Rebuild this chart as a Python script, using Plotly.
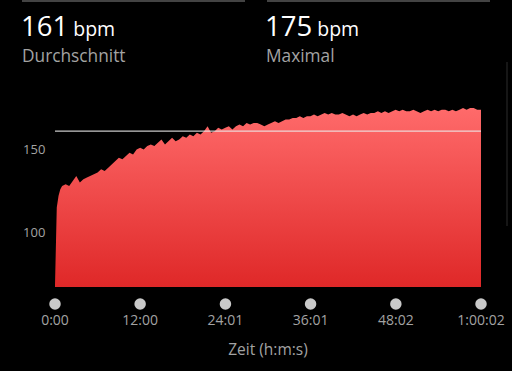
import plotly.graph_objects as go

# ---- data ----
time_min = [0, 0.1, 0.25, 0.5, 0.75, 1.0] + [1.5 + 0.5 * i for i in range(118)] + [60.033]
heart_rate = [68, 100, 115, 122, 126, 128,
              129, 128, 131, 134, 130, 132, 133, 134, 135, 136,
              138, 137, 139, 141, 143, 145, 144, 146, 148, 147,
              150, 151, 150, 152, 153, 152, 154, 156, 153, 155,
              157, 155, 156, 158, 157, 159, 158, 160, 159, 161,
              164, 160, 161, 163, 162, 163, 164, 162, 164, 165,
              164, 166, 165, 166, 166, 165, 164, 165, 166, 167,
              166, 167, 168, 168, 169, 169, 170, 169, 170, 170,
              171, 170, 171, 172, 171, 172, 171, 171, 172, 171,
              170, 171, 170, 171, 172, 171, 172, 172, 173, 172,
              173, 172, 173, 174, 173, 174, 173, 173, 174, 173,
              172, 173, 174, 173, 174, 173, 174, 174, 173, 174,
              173, 174, 175, 174, 175, 175, 174, 174, 174]
average_bpm = 161
max_bpm = 175
tick_vals = [0, 12, 24.017, 36.017, 48.033, 60.033]
tick_text = ["0:00", "12:00", "24:01", "36:01", "48:02", "1:00:02"]
y_ticks = [100, 150]

FONT = "'Open Sans', Roboto, 'Noto Sans', sans-serif"
GREY = "#a3a3a3"

# pixel layout: plot region x 55..481, y 103..310 (main 103..287, dot strip 298..310)
L, R, T, B = 55, 481, 103, 310

def px_x(p):
    return (p - L) / (R - L)

def px_y(p):
    return (B - p) / (B - T)

fig = go.Figure()

fig.add_trace(go.Scatter(
    x=time_min, y=heart_rate, mode="lines", line=dict(width=0, color="#ff6a6a"),
    fill="tozeroy",
    fillgradient=dict(type="vertical", start=67, stop=176,
                      colorscale=[[0, "#df2828"], [1, "#ff6b6b"]]),
    hoverinfo="skip", showlegend=False, xaxis="x", yaxis="y"))

fig.add_trace(go.Scatter(
    x=[0, tick_vals[-1]], y=[average_bpm, average_bpm], mode="lines",
    line=dict(width=1.2, color="rgba(235,235,235,0.85)"),
    hoverinfo="skip", showlegend=False, xaxis="x", yaxis="y"))

fig.add_trace(go.Scatter(
    x=tick_vals, y=[0.5] * len(tick_vals), mode="markers",
    marker=dict(size=11.5, color="#c9c9c9"), cliponaxis=False,
    hoverinfo="skip", showlegend=False, xaxis="x2", yaxis="y2"))

shapes = [
    dict(type="line", xref="paper", yref="paper", x0=px_x(22), x1=px_x(245),
         y0=px_y(1), y1=px_y(1), line=dict(color="#5a5a5a", width=1.5)),
    dict(type="line", xref="paper", yref="paper", x0=px_x(267), x1=px_x(490),
         y0=px_y(1), y1=px_y(1), line=dict(color="#5a5a5a", width=1.5)),
    dict(type="line", xref="paper", yref="paper", x0=px_x(507), x1=px_x(507),
         y0=px_y(62), y1=px_y(226), line=dict(color="#1e1e1e", width=1.5)),
]

big = 27.5
small = 19.5
annotations = [
    dict(text=f"{average_bpm}<span style='font-size:{small}px'> bpm</span>", x=px_x(19), y=px_y(25),
         xref="paper", yref="paper", xanchor="left", yanchor="middle", showarrow=False,
         font=dict(size=big, color="white", family=FONT)),
    dict(text="Durchschnitt", x=px_x(20), y=px_y(55),
         xref="paper", yref="paper", xanchor="left", yanchor="middle", showarrow=False,
         font=dict(size=17.3, color=GREY, family=FONT)),
    dict(text=f"{max_bpm}<span style='font-size:{small}px'> bpm</span>", x=px_x(263), y=px_y(25),
         xref="paper", yref="paper", xanchor="left", yanchor="middle", showarrow=False,
         font=dict(size=big, color="white", family=FONT)),
    dict(text="Maximal", x=px_x(264), y=px_y(55),
         xref="paper", yref="paper", xanchor="left", yanchor="middle", showarrow=False,
         font=dict(size=17.3, color=GREY, family=FONT)),
]

fig.update_layout(
    width=512, height=371, autosize=False,
    margin=dict(l=L, r=512 - R, t=T, b=371 - B, pad=0),
    paper_bgcolor="black", plot_bgcolor="black",
    shapes=shapes, annotations=annotations,
    font=dict(family=FONT, color=GREY),
    xaxis=dict(range=[0, tick_vals[-1]], showticklabels=False, showgrid=False,
               zeroline=False, showline=False, anchor="y", automargin=False),
    yaxis=dict(domain=[(B - 287) / (B - T), 1], range=[67, 178], tickvals=y_ticks,
               showgrid=False, zeroline=False, showline=False, ticks="outside",
               ticklen=6, tickcolor="rgba(0,0,0,0)", tickfont=dict(size=13, color=GREY),
               automargin=False),
    xaxis2=dict(range=[0, tick_vals[-1]], matches="x", anchor="y2", tickvals=tick_vals,
                ticktext=tick_text, showgrid=False, zeroline=False, showline=False,
                ticks="", tickfont=dict(size=14, color=GREY), automargin=False,
                title=dict(text="Zeit (h:m:s)", font=dict(size=15.5, color=GREY), standoff=16)),
    yaxis2=dict(domain=[0, (B - 298) / (B - T)], range=[0, 1], visible=False,
                automargin=False),
)

fig.write_html("out.html", config={"responsive": False})
